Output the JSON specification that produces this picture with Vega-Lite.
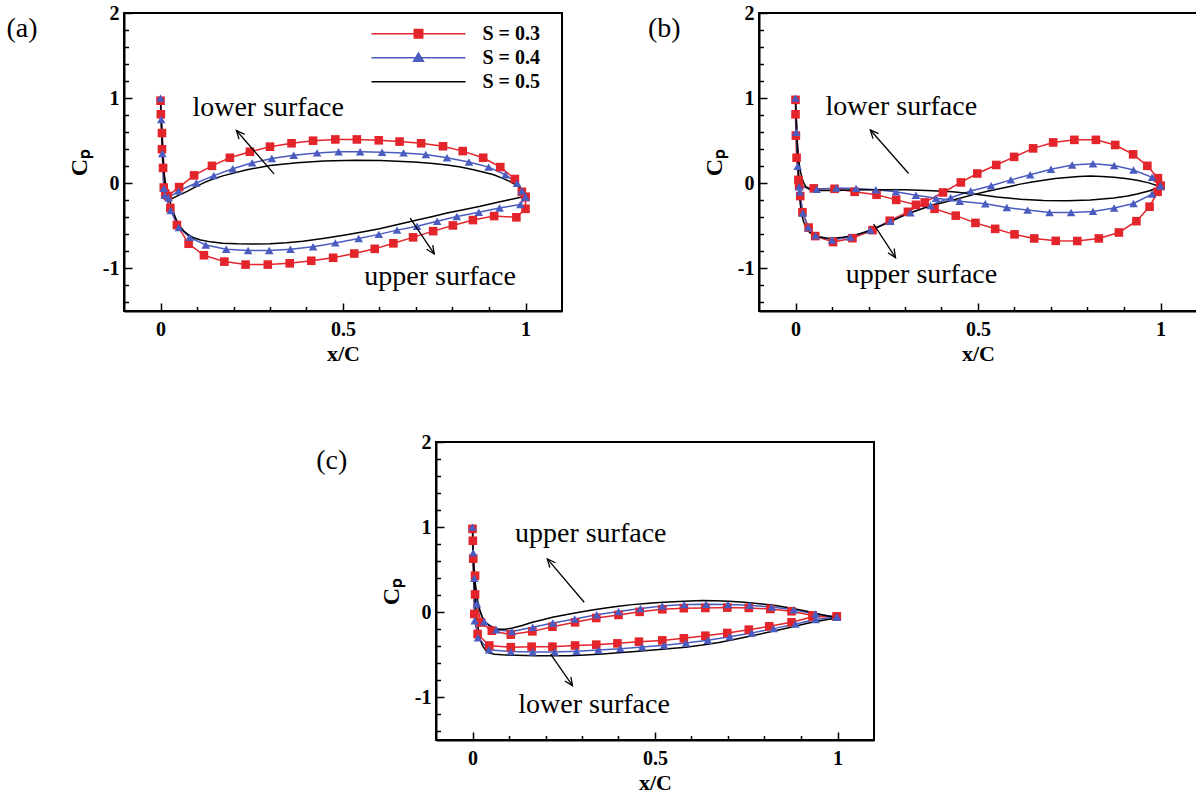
{
  "$schema": "https://vega.github.io/schema/vega-lite/v6.json",
  "padding": {"left": 5, "top": 2, "right": 5, "bottom": 5},
  "background": "white",
  "config": {
    "font": "Liberation Serif",
    "view": {"stroke": "black", "strokeWidth": 2},
    "axis": {
      "domainColor": "black", "domainWidth": 2, "grid": false,
      "tickColor": "black", "tickWidth": 1.5,
      "labelFont": "Liberation Serif", "labelFontWeight": "bold", "labelFontSize": 20, "labelColor": "black",
      "titleFont": "Liberation Serif", "titleFontWeight": "bold", "titleColor": "black",
      "labelOverlap": false, "labelFlush": false
    }
  },
  "datasets": {
    "a": [
      {"s":"S = 0.3","x":1.0,"cp":-0.16},{"s":"S = 0.3","x":0.99,"cp":-0.10},{"s":"S = 0.3","x":0.971,"cp":0.05},{"s":"S = 0.3","x":0.931,"cp":0.19},{"s":"S = 0.3","x":0.884,"cp":0.30},{"s":"S = 0.3","x":0.828,"cp":0.378},{"s":"S = 0.3","x":0.774,"cp":0.435},{"s":"S = 0.3","x":0.714,"cp":0.47},{"s":"S = 0.3","x":0.655,"cp":0.49},{"s":"S = 0.3","x":0.598,"cp":0.505},{"s":"S = 0.3","x":0.538,"cp":0.515},{"s":"S = 0.3","x":0.479,"cp":0.515},{"s":"S = 0.3","x":0.418,"cp":0.50},{"s":"S = 0.3","x":0.359,"cp":0.47},{"s":"S = 0.3","x":0.30,"cp":0.43},{"s":"S = 0.3","x":0.245,"cp":0.37},{"s":"S = 0.3","x":0.19,"cp":0.30},{"s":"S = 0.3","x":0.141,"cp":0.205},{"s":"S = 0.3","x":0.092,"cp":0.093},{"s":"S = 0.3","x":0.051,"cp":-0.045},{"s":"S = 0.3","x":0.02,"cp":-0.15},{"s":"S = 0.3","x":0.009,"cp":-0.05},{"s":"S = 0.3","x":0.007,"cp":0.18},{"s":"S = 0.3","x":0.004,"cp":0.40},{"s":"S = 0.3","x":0.004,"cp":0.59},{"s":"S = 0.3","x":0.001,"cp":0.81},{"s":"S = 0.3","x":0.0,"cp":0.97},
      {"s":"S = 0.3","x":0.013,"cp":-0.12},{"s":"S = 0.3","x":0.027,"cp":-0.29},{"s":"S = 0.3","x":0.045,"cp":-0.49},{"s":"S = 0.3","x":0.077,"cp":-0.71},{"s":"S = 0.3","x":0.119,"cp":-0.845},{"s":"S = 0.3","x":0.175,"cp":-0.92},{"s":"S = 0.3","x":0.233,"cp":-0.955},{"s":"S = 0.3","x":0.294,"cp":-0.955},{"s":"S = 0.3","x":0.354,"cp":-0.94},{"s":"S = 0.3","x":0.413,"cp":-0.91},{"s":"S = 0.3","x":0.473,"cp":-0.875},{"s":"S = 0.3","x":0.531,"cp":-0.825},{"s":"S = 0.3","x":0.587,"cp":-0.77},{"s":"S = 0.3","x":0.638,"cp":-0.705},{"s":"S = 0.3","x":0.692,"cp":-0.635},{"s":"S = 0.3","x":0.747,"cp":-0.562},{"s":"S = 0.3","x":0.801,"cp":-0.495},{"s":"S = 0.3","x":0.856,"cp":-0.432},{"s":"S = 0.3","x":0.914,"cp":-0.385},{"s":"S = 0.3","x":0.975,"cp":-0.40},{"s":"S = 0.3","x":1.0,"cp":-0.30},{"s":"S = 0.3","x":1.0,"cp":-0.161},

      {"s":"S = 0.4","x":1.0,"cp":-0.16},{"s":"S = 0.4","x":0.99,"cp":-0.09},{"s":"S = 0.4","x":0.977,"cp":0.0},{"s":"S = 0.4","x":0.945,"cp":0.10},{"s":"S = 0.4","x":0.899,"cp":0.19},{"s":"S = 0.4","x":0.845,"cp":0.25},{"s":"S = 0.4","x":0.785,"cp":0.30},{"s":"S = 0.4","x":0.727,"cp":0.337},{"s":"S = 0.4","x":0.666,"cp":0.357},{"s":"S = 0.4","x":0.607,"cp":0.365},{"s":"S = 0.4","x":0.547,"cp":0.37},{"s":"S = 0.4","x":0.488,"cp":0.37},{"s":"S = 0.4","x":0.429,"cp":0.357},{"s":"S = 0.4","x":0.365,"cp":0.33},{"s":"S = 0.4","x":0.305,"cp":0.29},{"s":"S = 0.4","x":0.251,"cp":0.24},{"s":"S = 0.4","x":0.198,"cp":0.17},{"s":"S = 0.4","x":0.146,"cp":0.09},{"s":"S = 0.4","x":0.098,"cp":0.004},{"s":"S = 0.4","x":0.05,"cp":-0.09},{"s":"S = 0.4","x":0.022,"cp":-0.17},{"s":"S = 0.4","x":0.009,"cp":-0.06},{"s":"S = 0.4","x":0.005,"cp":0.35},{"s":"S = 0.4","x":0.002,"cp":0.75},{"s":"S = 0.4","x":0.0,"cp":1.0},
      {"s":"S = 0.4","x":0.012,"cp":-0.14},{"s":"S = 0.4","x":0.028,"cp":-0.32},{"s":"S = 0.4","x":0.05,"cp":-0.52},{"s":"S = 0.4","x":0.08,"cp":-0.635},{"s":"S = 0.4","x":0.124,"cp":-0.725},{"s":"S = 0.4","x":0.18,"cp":-0.775},{"s":"S = 0.4","x":0.24,"cp":-0.79},{"s":"S = 0.4","x":0.298,"cp":-0.79},{"s":"S = 0.4","x":0.356,"cp":-0.775},{"s":"S = 0.4","x":0.418,"cp":-0.745},{"s":"S = 0.4","x":0.479,"cp":-0.70},{"s":"S = 0.4","x":0.543,"cp":-0.648},{"s":"S = 0.4","x":0.598,"cp":-0.60},{"s":"S = 0.4","x":0.648,"cp":-0.55},{"s":"S = 0.4","x":0.703,"cp":-0.505},{"s":"S = 0.4","x":0.758,"cp":-0.447},{"s":"S = 0.4","x":0.812,"cp":-0.39},{"s":"S = 0.4","x":0.872,"cp":-0.34},{"s":"S = 0.4","x":0.929,"cp":-0.29},{"s":"S = 0.4","x":0.986,"cp":-0.25},{"s":"S = 0.4","x":1.0,"cp":-0.161},

      {"s":"S = 0.5","x":1.0,"cp":-0.15},{"s":"S = 0.5","x":0.986,"cp":-0.055},{"s":"S = 0.5","x":0.972,"cp":-0.015},{"s":"S = 0.5","x":0.958,"cp":0.02},{"s":"S = 0.5","x":0.936,"cp":0.06},{"s":"S = 0.5","x":0.913,"cp":0.10},{"s":"S = 0.5","x":0.886,"cp":0.13},{"s":"S = 0.5","x":0.858,"cp":0.16},{"s":"S = 0.5","x":0.822,"cp":0.19},{"s":"S = 0.5","x":0.785,"cp":0.215},{"s":"S = 0.5","x":0.74,"cp":0.235},{"s":"S = 0.5","x":0.694,"cp":0.25},{"s":"S = 0.5","x":0.648,"cp":0.26},{"s":"S = 0.5","x":0.602,"cp":0.267},{"s":"S = 0.5","x":0.534,"cp":0.27},{"s":"S = 0.5","x":0.448,"cp":0.262},{"s":"S = 0.5","x":0.374,"cp":0.24},{"s":"S = 0.5","x":0.30,"cp":0.208},{"s":"S = 0.5","x":0.237,"cp":0.16},{"s":"S = 0.5","x":0.173,"cp":0.09},{"s":"S = 0.5","x":0.14,"cp":0.045},{"s":"S = 0.5","x":0.118,"cp":0.005},{"s":"S = 0.5","x":0.095,"cp":-0.045},{"s":"S = 0.5","x":0.073,"cp":-0.095},{"s":"S = 0.5","x":0.058,"cp":-0.125},{"s":"S = 0.5","x":0.045,"cp":-0.15},{"s":"S = 0.5","x":0.035,"cp":-0.172},{"s":"S = 0.5","x":0.027,"cp":-0.19},{"s":"S = 0.5","x":0.021,"cp":-0.15},{"s":"S = 0.5","x":0.017,"cp":-0.08},{"s":"S = 0.5","x":0.012,"cp":0.05},{"s":"S = 0.5","x":0.008,"cp":0.2},{"s":"S = 0.5","x":0.005,"cp":0.45},{"s":"S = 0.5","x":0.002,"cp":0.75},{"s":"S = 0.5","x":0.0,"cp":1.0},
      {"s":"S = 0.5","x":0.003,"cp":0.6},{"s":"S = 0.5","x":0.007,"cp":0.25},{"s":"S = 0.5","x":0.012,"cp":0.0},{"s":"S = 0.5","x":0.018,"cp":-0.1},{"s":"S = 0.5","x":0.025,"cp":-0.2},{"s":"S = 0.5","x":0.032,"cp":-0.29},{"s":"S = 0.5","x":0.038,"cp":-0.37},{"s":"S = 0.5","x":0.045,"cp":-0.445},{"s":"S = 0.5","x":0.054,"cp":-0.51},{"s":"S = 0.5","x":0.064,"cp":-0.56},{"s":"S = 0.5","x":0.077,"cp":-0.605},{"s":"S = 0.5","x":0.091,"cp":-0.64},{"s":"S = 0.5","x":0.11,"cp":-0.665},{"s":"S = 0.5","x":0.137,"cp":-0.688},{"s":"S = 0.5","x":0.17,"cp":-0.703},{"s":"S = 0.5","x":0.21,"cp":-0.71},{"s":"S = 0.5","x":0.255,"cp":-0.712},{"s":"S = 0.5","x":0.30,"cp":-0.71},{"s":"S = 0.5","x":0.345,"cp":-0.698},{"s":"S = 0.5","x":0.39,"cp":-0.68},{"s":"S = 0.5","x":0.45,"cp":-0.645},{"s":"S = 0.5","x":0.51,"cp":-0.605},{"s":"S = 0.5","x":0.56,"cp":-0.567},{"s":"S = 0.5","x":0.60,"cp":-0.533},{"s":"S = 0.5","x":0.65,"cp":-0.485},{"s":"S = 0.5","x":0.694,"cp":-0.44},{"s":"S = 0.5","x":0.74,"cp":-0.395},{"s":"S = 0.5","x":0.785,"cp":-0.35},{"s":"S = 0.5","x":0.83,"cp":-0.31},{"s":"S = 0.5","x":0.876,"cp":-0.27},{"s":"S = 0.5","x":0.915,"cp":-0.232},{"s":"S = 0.5","x":0.949,"cp":-0.20},{"s":"S = 0.5","x":0.975,"cp":-0.175},{"s":"S = 0.5","x":1.0,"cp":-0.151}
    ],
    "b": [
      {"s":"S = 0.3","x":1.0,"cp":-0.03},{"s":"S = 0.3","x":0.993,"cp":0.06},{"s":"S = 0.3","x":0.964,"cp":0.205},{"s":"S = 0.3","x":0.925,"cp":0.34},{"s":"S = 0.3","x":0.876,"cp":0.45},{"s":"S = 0.3","x":0.823,"cp":0.51},{"s":"S = 0.3","x":0.764,"cp":0.51},{"s":"S = 0.3","x":0.706,"cp":0.48},{"s":"S = 0.3","x":0.651,"cp":0.41},{"s":"S = 0.3","x":0.599,"cp":0.31},{"s":"S = 0.3","x":0.55,"cp":0.215},{"s":"S = 0.3","x":0.498,"cp":0.115},{"s":"S = 0.3","x":0.453,"cp":0.01},{"s":"S = 0.3","x":0.404,"cp":-0.108},{"s":"S = 0.3","x":0.354,"cp":-0.225},{"s":"S = 0.3","x":0.308,"cp":-0.335},{"s":"S = 0.3","x":0.258,"cp":-0.44},{"s":"S = 0.3","x":0.211,"cp":-0.55},{"s":"S = 0.3","x":0.156,"cp":-0.645},{"s":"S = 0.3","x":0.103,"cp":-0.69},{"s":"S = 0.3","x":0.054,"cp":-0.62},{"s":"S = 0.3","x":0.036,"cp":-0.52},{"s":"S = 0.3","x":0.019,"cp":-0.34},{"s":"S = 0.3","x":0.013,"cp":-0.15},{"s":"S = 0.3","x":0.008,"cp":0.04},{"s":"S = 0.3","x":0.003,"cp":0.30},{"s":"S = 0.3","x":0.001,"cp":0.56},{"s":"S = 0.3","x":0.0,"cp":0.81},{"s":"S = 0.3","x":0.0,"cp":0.98},
      {"s":"S = 0.3","x":0.01,"cp":-0.03},{"s":"S = 0.3","x":0.05,"cp":-0.06},{"s":"S = 0.3","x":0.107,"cp":-0.065},{"s":"S = 0.3","x":0.162,"cp":-0.10},{"s":"S = 0.3","x":0.222,"cp":-0.135},{"s":"S = 0.3","x":0.276,"cp":-0.195},{"s":"S = 0.3","x":0.33,"cp":-0.253},{"s":"S = 0.3","x":0.381,"cp":-0.30},{"s":"S = 0.3","x":0.439,"cp":-0.38},{"s":"S = 0.3","x":0.493,"cp":-0.465},{"s":"S = 0.3","x":0.547,"cp":-0.535},{"s":"S = 0.3","x":0.60,"cp":-0.60},{"s":"S = 0.3","x":0.654,"cp":-0.648},{"s":"S = 0.3","x":0.713,"cp":-0.676},{"s":"S = 0.3","x":0.772,"cp":-0.678},{"s":"S = 0.3","x":0.831,"cp":-0.648},{"s":"S = 0.3","x":0.886,"cp":-0.578},{"s":"S = 0.3","x":0.934,"cp":-0.445},{"s":"S = 0.3","x":0.97,"cp":-0.275},{"s":"S = 0.3","x":0.992,"cp":-0.10},{"s":"S = 0.3","x":1.0,"cp":-0.031},

      {"s":"S = 0.4","x":1.0,"cp":-0.03},{"s":"S = 0.4","x":0.977,"cp":0.07},{"s":"S = 0.4","x":0.926,"cp":0.155},{"s":"S = 0.4","x":0.873,"cp":0.21},{"s":"S = 0.4","x":0.815,"cp":0.23},{"s":"S = 0.4","x":0.758,"cp":0.215},{"s":"S = 0.4","x":0.70,"cp":0.165},{"s":"S = 0.4","x":0.643,"cp":0.10},{"s":"S = 0.4","x":0.59,"cp":0.04},{"s":"S = 0.4","x":0.536,"cp":-0.03},{"s":"S = 0.4","x":0.48,"cp":-0.09},{"s":"S = 0.4","x":0.425,"cp":-0.17},{"s":"S = 0.4","x":0.37,"cp":-0.26},{"s":"S = 0.4","x":0.315,"cp":-0.345},{"s":"S = 0.4","x":0.26,"cp":-0.445},{"s":"S = 0.4","x":0.205,"cp":-0.55},{"s":"S = 0.4","x":0.15,"cp":-0.63},{"s":"S = 0.4","x":0.10,"cp":-0.665},{"s":"S = 0.4","x":0.055,"cp":-0.615},{"s":"S = 0.4","x":0.035,"cp":-0.52},{"s":"S = 0.4","x":0.02,"cp":-0.35},{"s":"S = 0.4","x":0.012,"cp":-0.1},{"s":"S = 0.4","x":0.006,"cp":0.2},{"s":"S = 0.4","x":0.002,"cp":0.6},{"s":"S = 0.4","x":0.0,"cp":1.0},
      {"s":"S = 0.4","x":0.01,"cp":-0.04},{"s":"S = 0.4","x":0.058,"cp":-0.07},{"s":"S = 0.4","x":0.112,"cp":-0.055},{"s":"S = 0.4","x":0.166,"cp":-0.06},{"s":"S = 0.4","x":0.22,"cp":-0.075},{"s":"S = 0.4","x":0.275,"cp":-0.10},{"s":"S = 0.4","x":0.33,"cp":-0.14},{"s":"S = 0.4","x":0.385,"cp":-0.175},{"s":"S = 0.4","x":0.45,"cp":-0.21},{"s":"S = 0.4","x":0.52,"cp":-0.24},{"s":"S = 0.4","x":0.579,"cp":-0.285},{"s":"S = 0.4","x":0.636,"cp":-0.315},{"s":"S = 0.4","x":0.696,"cp":-0.343},{"s":"S = 0.4","x":0.755,"cp":-0.343},{"s":"S = 0.4","x":0.815,"cp":-0.33},{"s":"S = 0.4","x":0.873,"cp":-0.29},{"s":"S = 0.4","x":0.926,"cp":-0.237},{"s":"S = 0.4","x":0.977,"cp":-0.127},{"s":"S = 0.4","x":1.0,"cp":-0.031},

      {"s":"S = 0.5","x":1.0,"cp":-0.04},{"s":"S = 0.5","x":0.968,"cp":0.005},{"s":"S = 0.5","x":0.936,"cp":0.035},{"s":"S = 0.5","x":0.904,"cp":0.055},{"s":"S = 0.5","x":0.872,"cp":0.07},{"s":"S = 0.5","x":0.84,"cp":0.08},{"s":"S = 0.5","x":0.808,"cp":0.085},{"s":"S = 0.5","x":0.776,"cp":0.08},{"s":"S = 0.5","x":0.744,"cp":0.068},{"s":"S = 0.5","x":0.712,"cp":0.055},{"s":"S = 0.5","x":0.68,"cp":0.037},{"s":"S = 0.5","x":0.648,"cp":0.015},{"s":"S = 0.5","x":0.616,"cp":-0.01},{"s":"S = 0.5","x":0.584,"cp":-0.04},{"s":"S = 0.5","x":0.552,"cp":-0.07},{"s":"S = 0.5","x":0.52,"cp":-0.1},{"s":"S = 0.5","x":0.49,"cp":-0.13},{"s":"S = 0.5","x":0.442,"cp":-0.185},{"s":"S = 0.5","x":0.405,"cp":-0.225},{"s":"S = 0.5","x":0.37,"cp":-0.265},{"s":"S = 0.5","x":0.333,"cp":-0.32},{"s":"S = 0.5","x":0.296,"cp":-0.38},{"s":"S = 0.5","x":0.26,"cp":-0.45},{"s":"S = 0.5","x":0.223,"cp":-0.52},{"s":"S = 0.5","x":0.19,"cp":-0.575},{"s":"S = 0.5","x":0.16,"cp":-0.612},{"s":"S = 0.5","x":0.13,"cp":-0.635},{"s":"S = 0.5","x":0.105,"cp":-0.645},{"s":"S = 0.5","x":0.085,"cp":-0.643},{"s":"S = 0.5","x":0.065,"cp":-0.63},{"s":"S = 0.5","x":0.05,"cp":-0.61},{"s":"S = 0.5","x":0.038,"cp":-0.575},{"s":"S = 0.5","x":0.029,"cp":-0.52},{"s":"S = 0.5","x":0.022,"cp":-0.45},{"s":"S = 0.5","x":0.016,"cp":-0.35},{"s":"S = 0.5","x":0.012,"cp":-0.2},{"s":"S = 0.5","x":0.009,"cp":0.0},{"s":"S = 0.5","x":0.006,"cp":0.3},{"s":"S = 0.5","x":0.003,"cp":0.65},{"s":"S = 0.5","x":0.0,"cp":1.0},
      {"s":"S = 0.5","x":0.003,"cp":0.6},{"s":"S = 0.5","x":0.008,"cp":0.3},{"s":"S = 0.5","x":0.013,"cp":0.147},{"s":"S = 0.5","x":0.018,"cp":0.06},{"s":"S = 0.5","x":0.022,"cp":0.01},{"s":"S = 0.5","x":0.028,"cp":-0.04},{"s":"S = 0.5","x":0.036,"cp":-0.068},{"s":"S = 0.5","x":0.05,"cp":-0.08},{"s":"S = 0.5","x":0.07,"cp":-0.085},{"s":"S = 0.5","x":0.1,"cp":-0.085},{"s":"S = 0.5","x":0.15,"cp":-0.08},{"s":"S = 0.5","x":0.223,"cp":-0.075},{"s":"S = 0.5","x":0.30,"cp":-0.077},{"s":"S = 0.5","x":0.36,"cp":-0.085},{"s":"S = 0.5","x":0.43,"cp":-0.10},{"s":"S = 0.5","x":0.49,"cp":-0.125},{"s":"S = 0.5","x":0.552,"cp":-0.16},{"s":"S = 0.5","x":0.616,"cp":-0.188},{"s":"S = 0.5","x":0.68,"cp":-0.203},{"s":"S = 0.5","x":0.744,"cp":-0.206},{"s":"S = 0.5","x":0.808,"cp":-0.197},{"s":"S = 0.5","x":0.872,"cp":-0.174},{"s":"S = 0.5","x":0.91,"cp":-0.15},{"s":"S = 0.5","x":0.936,"cp":-0.125},{"s":"S = 0.5","x":0.968,"cp":-0.09},{"s":"S = 0.5","x":1.0,"cp":-0.041}
    ],
    "c": [
      {"s":"S = 0.3","x":0.998,"cp":-0.05},{"s":"S = 0.3","x":0.932,"cp":-0.037},{"s":"S = 0.3","x":0.874,"cp":0.012},{"s":"S = 0.3","x":0.816,"cp":0.039},{"s":"S = 0.3","x":0.757,"cp":0.051},{"s":"S = 0.3","x":0.698,"cp":0.055},{"s":"S = 0.3","x":0.638,"cp":0.051},{"s":"S = 0.3","x":0.579,"cp":0.048},{"s":"S = 0.3","x":0.52,"cp":0.035},{"s":"S = 0.3","x":0.458,"cp":0.005},{"s":"S = 0.3","x":0.40,"cp":-0.031},{"s":"S = 0.3","x":0.339,"cp":-0.067},{"s":"S = 0.3","x":0.281,"cp":-0.118},{"s":"S = 0.3","x":0.219,"cp":-0.169},{"s":"S = 0.3","x":0.164,"cp":-0.224},{"s":"S = 0.3","x":0.105,"cp":-0.262},{"s":"S = 0.3","x":0.053,"cp":-0.216},{"s":"S = 0.3","x":0.023,"cp":-0.12},{"s":"S = 0.3","x":0.007,"cp":0.21},{"s":"S = 0.3","x":0.007,"cp":0.43},{"s":"S = 0.3","x":0.002,"cp":0.63},{"s":"S = 0.3","x":0.001,"cp":0.84},{"s":"S = 0.3","x":0.0,"cp":0.98},
      {"s":"S = 0.3","x":0.005,"cp":-0.02},{"s":"S = 0.3","x":0.014,"cp":-0.255},{"s":"S = 0.3","x":0.046,"cp":-0.39},{"s":"S = 0.3","x":0.105,"cp":-0.41},{"s":"S = 0.3","x":0.162,"cp":-0.404},{"s":"S = 0.3","x":0.219,"cp":-0.404},{"s":"S = 0.3","x":0.281,"cp":-0.39},{"s":"S = 0.3","x":0.339,"cp":-0.38},{"s":"S = 0.3","x":0.397,"cp":-0.365},{"s":"S = 0.3","x":0.456,"cp":-0.345},{"s":"S = 0.3","x":0.52,"cp":-0.33},{"s":"S = 0.3","x":0.579,"cp":-0.306},{"s":"S = 0.3","x":0.638,"cp":-0.275},{"s":"S = 0.3","x":0.698,"cp":-0.243},{"s":"S = 0.3","x":0.757,"cp":-0.204},{"s":"S = 0.3","x":0.813,"cp":-0.165},{"s":"S = 0.3","x":0.874,"cp":-0.118},{"s":"S = 0.3","x":0.932,"cp":-0.053},{"s":"S = 0.3","x":0.998,"cp":-0.051},

      {"s":"S = 0.4","x":0.998,"cp":-0.055},{"s":"S = 0.4","x":0.94,"cp":-0.02},{"s":"S = 0.4","x":0.88,"cp":0.03},{"s":"S = 0.4","x":0.82,"cp":0.062},{"s":"S = 0.4","x":0.76,"cp":0.082},{"s":"S = 0.4","x":0.70,"cp":0.092},{"s":"S = 0.4","x":0.64,"cp":0.095},{"s":"S = 0.4","x":0.58,"cp":0.09},{"s":"S = 0.4","x":0.52,"cp":0.075},{"s":"S = 0.4","x":0.46,"cp":0.045},{"s":"S = 0.4","x":0.40,"cp":0.01},{"s":"S = 0.4","x":0.34,"cp":-0.03},{"s":"S = 0.4","x":0.28,"cp":-0.078},{"s":"S = 0.4","x":0.22,"cp":-0.125},{"s":"S = 0.4","x":0.165,"cp":-0.175},{"s":"S = 0.4","x":0.108,"cp":-0.225},{"s":"S = 0.4","x":0.065,"cp":-0.205},{"s":"S = 0.4","x":0.032,"cp":-0.11},{"s":"S = 0.4","x":0.012,"cp":0.1},{"s":"S = 0.4","x":0.005,"cp":0.4},{"s":"S = 0.4","x":0.002,"cp":0.7},{"s":"S = 0.4","x":0.0,"cp":1.0},
      {"s":"S = 0.4","x":0.006,"cp":-0.1},{"s":"S = 0.4","x":0.015,"cp":-0.3},{"s":"S = 0.4","x":0.045,"cp":-0.44},{"s":"S = 0.4","x":0.105,"cp":-0.462},{"s":"S = 0.4","x":0.165,"cp":-0.467},{"s":"S = 0.4","x":0.225,"cp":-0.467},{"s":"S = 0.4","x":0.285,"cp":-0.457},{"s":"S = 0.4","x":0.345,"cp":-0.443},{"s":"S = 0.4","x":0.405,"cp":-0.427},{"s":"S = 0.4","x":0.465,"cp":-0.408},{"s":"S = 0.4","x":0.525,"cp":-0.388},{"s":"S = 0.4","x":0.585,"cp":-0.362},{"s":"S = 0.4","x":0.645,"cp":-0.328},{"s":"S = 0.4","x":0.705,"cp":-0.288},{"s":"S = 0.4","x":0.765,"cp":-0.243},{"s":"S = 0.4","x":0.825,"cp":-0.192},{"s":"S = 0.4","x":0.885,"cp":-0.137},{"s":"S = 0.4","x":0.94,"cp":-0.085},{"s":"S = 0.4","x":0.998,"cp":-0.056},

      {"s":"S = 0.5","x":1.0,"cp":-0.065},{"s":"S = 0.5","x":0.97,"cp":-0.04},{"s":"S = 0.5","x":0.939,"cp":-0.012},{"s":"S = 0.5","x":0.912,"cp":0.015},{"s":"S = 0.5","x":0.885,"cp":0.04},{"s":"S = 0.5","x":0.858,"cp":0.06},{"s":"S = 0.5","x":0.83,"cp":0.079},{"s":"S = 0.5","x":0.8,"cp":0.095},{"s":"S = 0.5","x":0.766,"cp":0.11},{"s":"S = 0.5","x":0.735,"cp":0.122},{"s":"S = 0.5","x":0.702,"cp":0.13},{"s":"S = 0.5","x":0.665,"cp":0.135},{"s":"S = 0.5","x":0.629,"cp":0.137},{"s":"S = 0.5","x":0.597,"cp":0.134},{"s":"S = 0.5","x":0.565,"cp":0.128},{"s":"S = 0.5","x":0.511,"cp":0.115},{"s":"S = 0.5","x":0.475,"cp":0.104},{"s":"S = 0.5","x":0.438,"cp":0.09},{"s":"S = 0.5","x":0.40,"cp":0.072},{"s":"S = 0.5","x":0.365,"cp":0.051},{"s":"S = 0.5","x":0.328,"cp":0.027},{"s":"S = 0.5","x":0.292,"cp":0.0},{"s":"S = 0.5","x":0.255,"cp":-0.03},{"s":"S = 0.5","x":0.219,"cp":-0.059},{"s":"S = 0.5","x":0.19,"cp":-0.09},{"s":"S = 0.5","x":0.164,"cp":-0.118},{"s":"S = 0.5","x":0.136,"cp":-0.155},{"s":"S = 0.5","x":0.11,"cp":-0.185},{"s":"S = 0.5","x":0.09,"cp":-0.2},{"s":"S = 0.5","x":0.073,"cp":-0.198},{"s":"S = 0.5","x":0.058,"cp":-0.18},{"s":"S = 0.5","x":0.046,"cp":-0.157},{"s":"S = 0.5","x":0.036,"cp":-0.12},{"s":"S = 0.5","x":0.027,"cp":-0.06},{"s":"S = 0.5","x":0.02,"cp":0.03},{"s":"S = 0.5","x":0.014,"cp":0.14},{"s":"S = 0.5","x":0.009,"cp":0.3},{"s":"S = 0.5","x":0.005,"cp":0.45},{"s":"S = 0.5","x":0.002,"cp":0.7},{"s":"S = 0.5","x":0.0,"cp":1.0},
      {"s":"S = 0.5","x":0.002,"cp":0.6},{"s":"S = 0.5","x":0.005,"cp":0.3},{"s":"S = 0.5","x":0.009,"cp":0.06},{"s":"S = 0.5","x":0.013,"cp":-0.1},{"s":"S = 0.5","x":0.018,"cp":-0.255},{"s":"S = 0.5","x":0.022,"cp":-0.33},{"s":"S = 0.5","x":0.027,"cp":-0.39},{"s":"S = 0.5","x":0.036,"cp":-0.445},{"s":"S = 0.5","x":0.046,"cp":-0.478},{"s":"S = 0.5","x":0.06,"cp":-0.493},{"s":"S = 0.5","x":0.082,"cp":-0.50},{"s":"S = 0.5","x":0.12,"cp":-0.506},{"s":"S = 0.5","x":0.173,"cp":-0.51},{"s":"S = 0.5","x":0.22,"cp":-0.511},{"s":"S = 0.5","x":0.265,"cp":-0.51},{"s":"S = 0.5","x":0.31,"cp":-0.502},{"s":"S = 0.5","x":0.356,"cp":-0.49},{"s":"S = 0.5","x":0.4,"cp":-0.476},{"s":"S = 0.5","x":0.447,"cp":-0.46},{"s":"S = 0.5","x":0.52,"cp":-0.435},{"s":"S = 0.5","x":0.584,"cp":-0.41},{"s":"S = 0.5","x":0.63,"cp":-0.385},{"s":"S = 0.5","x":0.675,"cp":-0.355},{"s":"S = 0.5","x":0.72,"cp":-0.317},{"s":"S = 0.5","x":0.766,"cp":-0.275},{"s":"S = 0.5","x":0.81,"cp":-0.235},{"s":"S = 0.5","x":0.857,"cp":-0.19},{"s":"S = 0.5","x":0.895,"cp":-0.152},{"s":"S = 0.5","x":0.93,"cp":-0.118},{"s":"S = 0.5","x":0.965,"cp":-0.09},{"s":"S = 0.5","x":1.0,"cp":-0.066}
    ]
  },
  "vconcat": [
    {
      "hconcat": [
        {
          "width": 438, "height": 298,
          "resolve": {"axis": {"x": "independent", "y": "independent"}},
          "layer": [
            {
              "data": {"name": "a"},
              "mark": {"type": "line", "interpolate": "linear"},
              "encoding": {
                "x": {"field": "x", "type": "quantitative", "scale": {"domain": [-0.1, 1.1], "nice": false, "zero": false},
                  "axis": {"orient": "bottom", "title": "x/C", "titleFontSize": 22, "titlePadding": 4, "labelPadding": 16, "values": [0, 0.5, 1], "labelExpr": "'' + datum.value", "tickSize": -8}},
                "y": {"field": "cp", "type": "quantitative", "scale": {"domain": [-1.5, 2], "nice": false, "zero": false},
                  "axis": {"orient": "left", "title": "Cₚ", "titleFontSize": 24, "titlePadding": 11, "labelPadding": 13, "values": [-1, 0, 1, 2], "labelExpr": "'' + datum.value", "tickSize": -8}},
                "color": {"field": "s", "type": "nominal",
                  "scale": {"domain": ["S = 0.3", "S = 0.4", "S = 0.5"], "range": ["#e3242b", "#4a5cc0", "#000000"]},
                  "legend": {"orient": "none", "legendX": 246.5, "legendY": 9, "title": null, "padding": 0,
                    "symbolSize": 8836, "clipHeight": 23.5, "rowPadding": 0, "labelOffset": 16,
                    "labelFont": "Liberation Serif", "labelFontSize": 20, "labelFontWeight": "bold", "labelColor": "black", "labelBaseline": "middle",
                    "encode": {"symbols": {"update": {
                      "shape": {"signal": "datum.value === 'S = 0.3' ? 'M-1,0H1M-0.09,-0.09H0.09V0.09H-0.09Z' : datum.value === 'S = 0.4' ? 'M-1,0H1M0,-0.1L0.105,0.075H-0.105Z' : 'M-1,0H1'"},
                      "fill": {"signal": "datum.value === 'S = 0.3' ? '#e3242b' : datum.value === 'S = 0.4' ? '#4a5cc0' : 'transparent'"},
                      "stroke": {"signal": "datum.value === 'S = 0.3' ? '#e3242b' : datum.value === 'S = 0.4' ? '#4a5cc0' : '#000000'"},
                      "strokeWidth": {"signal": "datum.value === 'S = 0.5' ? 2 : 1.5"},
                      "size": {"value": 8836},
                      "opacity": {"value": 1}
                    }}}}},
                "strokeWidth": {"field": "s", "type": "ordinal", "scale": {"domain": ["S = 0.3", "S = 0.4", "S = 0.5"], "range": [1.5, 1.5, 2]}, "legend": null},
                "order": {"value": null}
              }
            },
            {
              "data": {"name": "a"},
              "transform": [{"filter": "datum.s !== 'S = 0.5'"}],
              "mark": {"type": "point", "filled": true, "opacity": 1, "size": 74},
              "encoding": {
                "x": {"field": "x", "type": "quantitative",
                  "axis": {"orient": "bottom", "title": null, "labels": false, "domain": false, "tickSize": -4.5, "values": [0.1, 0.2, 0.3, 0.4, 0.6, 0.7, 0.8, 0.9]}},
                "y": {"field": "cp", "type": "quantitative",
                  "axis": {"orient": "left", "title": null, "labels": false, "domain": false, "tickSize": -4.5, "values": [-1.4, -1.2, -0.8, -0.6, -0.4, -0.2, 0.2, 0.4, 0.6, 0.8, 1.2, 1.4, 1.6, 1.8]}},
                "color": {"field": "s", "type": "nominal"},
                "shape": {"field": "s", "type": "nominal", "scale": {"domain": ["S = 0.3", "S = 0.4"], "range": ["square", "triangle-up"]}, "legend": null}
              }
            },
            {"data": {"values": [{}]}, "mark": {"type": "text", "text": "(a)", "fontSize": 28, "align": "left", "baseline": "alphabetic", "color": "black"}, "encoding": {"x": {"datum": -0.422, "axis": null}, "y": {"datum": 1.718, "axis": null}}},
            {"data": {"values": [{}]}, "mark": {"type": "text", "text": "lower surface", "fontSize": 28, "align": "center", "baseline": "alphabetic", "color": "black"}, "encoding": {"x": {"datum": 0.295, "axis": null}, "y": {"datum": 0.79, "axis": null}}},
            {"data": {"values": [{}]}, "mark": {"type": "text", "text": "upper surface", "fontSize": 28, "align": "center", "baseline": "alphabetic", "color": "black"}, "encoding": {"x": {"datum": 0.766, "axis": null}, "y": {"datum": -1.19, "axis": null}}},
            {"data": {"values": [{}]}, "mark": {"type": "rule", "color": "black", "strokeWidth": 1.3}, "encoding": {"x": {"datum": 0.311, "axis": null}, "y": {"datum": 0.11, "axis": null}, "x2": {"datum": 0.208}, "y2": {"datum": 0.62}}},
            {"data": {"values": [{}]}, "mark": {"type": "point", "shape": "M-0.45,1L0,0L0.45,1", "filled": false, "stroke": "black", "strokeWidth": 1.3, "size": 270, "angle": -40.9, "opacity": 1}, "encoding": {"x": {"datum": 0.208, "axis": null}, "y": {"datum": 0.62, "axis": null}}},
            {"data": {"values": [{}]}, "mark": {"type": "rule", "color": "black", "strokeWidth": 1.3}, "encoding": {"x": {"datum": 0.684, "axis": null}, "y": {"datum": -0.41, "axis": null}, "x2": {"datum": 0.75}, "y2": {"datum": -0.83}}},
            {"data": {"values": [{}]}, "mark": {"type": "point", "shape": "M-0.45,1L0,0L0.45,1", "filled": false, "stroke": "black", "strokeWidth": 1.3, "size": 270, "angle": 146.1, "opacity": 1}, "encoding": {"x": {"datum": 0.75, "axis": null}, "y": {"datum": -0.83, "axis": null}}}
          ]
        },
        {
          "width": 438, "height": 298,
          "resolve": {"axis": {"x": "independent", "y": "independent"}},
          "layer": [
            {
              "data": {"name": "b"},
              "mark": {"type": "line", "interpolate": "linear"},
              "encoding": {
                "x": {"field": "x", "type": "quantitative", "scale": {"domain": [-0.1, 1.1], "nice": false, "zero": false},
                  "axis": {"orient": "bottom", "title": "x/C", "titleFontSize": 22, "titlePadding": 4, "labelPadding": 16, "values": [0, 0.5, 1], "labelExpr": "'' + datum.value", "tickSize": -8}},
                "y": {"field": "cp", "type": "quantitative", "scale": {"domain": [-1.5, 2], "nice": false, "zero": false},
                  "axis": {"orient": "left", "title": "Cₚ", "titleFontSize": 24, "titlePadding": 11, "labelPadding": 13, "values": [-1, 0, 1, 2], "labelExpr": "'' + datum.value", "tickSize": -8}},
                "color": {"field": "s", "type": "nominal",
                  "scale": {"domain": ["S = 0.3", "S = 0.4", "S = 0.5"], "range": ["#e3242b", "#4a5cc0", "#000000"]}, "legend": null},
                "strokeWidth": {"field": "s", "type": "ordinal", "scale": {"domain": ["S = 0.3", "S = 0.4", "S = 0.5"], "range": [1.5, 1.5, 2]}, "legend": null},
                "order": {"value": null}
              }
            },
            {
              "data": {"name": "b"},
              "transform": [{"filter": "datum.s !== 'S = 0.5'"}],
              "mark": {"type": "point", "filled": true, "opacity": 1, "size": 74},
              "encoding": {
                "x": {"field": "x", "type": "quantitative",
                  "axis": {"orient": "bottom", "title": null, "labels": false, "domain": false, "tickSize": -4.5, "values": [0.1, 0.2, 0.3, 0.4, 0.6, 0.7, 0.8, 0.9]}},
                "y": {"field": "cp", "type": "quantitative",
                  "axis": {"orient": "left", "title": null, "labels": false, "domain": false, "tickSize": -4.5, "values": [-1.4, -1.2, -0.8, -0.6, -0.4, -0.2, 0.2, 0.4, 0.6, 0.8, 1.2, 1.4, 1.6, 1.8]}},
                "color": {"field": "s", "type": "nominal"},
                "shape": {"field": "s", "type": "nominal", "scale": {"domain": ["S = 0.3", "S = 0.4"], "range": ["square", "triangle-up"]}, "legend": null}
              }
            },
            {"data": {"values": [{}]}, "mark": {"type": "text", "text": "(b)", "fontSize": 28, "align": "left", "baseline": "alphabetic", "color": "black"}, "encoding": {"x": {"datum": -0.404, "axis": null}, "y": {"datum": 1.715, "axis": null}}},
            {"data": {"values": [{}]}, "mark": {"type": "text", "text": "lower surface", "fontSize": 28, "align": "center", "baseline": "alphabetic", "color": "black"}, "encoding": {"x": {"datum": 0.29, "axis": null}, "y": {"datum": 0.806, "axis": null}}},
            {"data": {"values": [{}]}, "mark": {"type": "text", "text": "upper surface", "fontSize": 28, "align": "center", "baseline": "alphabetic", "color": "black"}, "encoding": {"x": {"datum": 0.345, "axis": null}, "y": {"datum": -1.167, "axis": null}}},
            {"data": {"values": [{}]}, "mark": {"type": "rule", "color": "black", "strokeWidth": 1.3}, "encoding": {"x": {"datum": 0.31, "axis": null}, "y": {"datum": 0.115, "axis": null}, "x2": {"datum": 0.205}, "y2": {"datum": 0.626}}},
            {"data": {"values": [{}]}, "mark": {"type": "point", "shape": "M-0.45,1L0,0L0.45,1", "filled": false, "stroke": "black", "strokeWidth": 1.3, "size": 270, "angle": -41.4, "opacity": 1}, "encoding": {"x": {"datum": 0.205, "axis": null}, "y": {"datum": 0.626, "axis": null}}},
            {"data": {"values": [{}]}, "mark": {"type": "rule", "color": "black", "strokeWidth": 1.3}, "encoding": {"x": {"datum": 0.214, "axis": null}, "y": {"datum": -0.48, "axis": null}, "x2": {"datum": 0.274}, "y2": {"datum": -0.873}}},
            {"data": {"values": [{}]}, "mark": {"type": "point", "shape": "M-0.45,1L0,0L0.45,1", "filled": false, "stroke": "black", "strokeWidth": 1.3, "size": 270, "angle": 146.8, "opacity": 1}, "encoding": {"x": {"datum": 0.274, "axis": null}, "y": {"datum": -0.873, "axis": null}}}
          ]
        }
      ],
      "spacing": 197,
      "bounds": "flush",
      "resolve": {"scale": {"color": "independent", "shape": "independent", "strokeWidth": "independent"}}
    },
    {
      "hconcat": [
        {
          "width": 200, "height": 298,
          "view": {"stroke": null},
          "data": {"values": []},
          "mark": {"type": "point", "opacity": 0}
        },
        {
          "width": 438, "height": 298,
          "resolve": {"axis": {"x": "independent", "y": "independent"}},
          "layer": [
            {
              "data": {"name": "c"},
              "mark": {"type": "line", "interpolate": "linear"},
              "encoding": {
                "x": {"field": "x", "type": "quantitative", "scale": {"domain": [-0.1, 1.1], "nice": false, "zero": false},
                  "axis": {"orient": "bottom", "title": "x/C", "titleFontSize": 22, "titlePadding": 4, "labelPadding": 16, "values": [0, 0.5, 1], "labelExpr": "'' + datum.value", "tickSize": -8}},
                "y": {"field": "cp", "type": "quantitative", "scale": {"domain": [-1.5, 2], "nice": false, "zero": false},
                  "axis": {"orient": "left", "title": "Cₚ", "titleFontSize": 24, "titlePadding": 11, "labelPadding": 13, "values": [-1, 0, 1, 2], "labelExpr": "'' + datum.value", "tickSize": -8}},
                "color": {"field": "s", "type": "nominal",
                  "scale": {"domain": ["S = 0.3", "S = 0.4", "S = 0.5"], "range": ["#e3242b", "#4a5cc0", "#000000"]}, "legend": null},
                "strokeWidth": {"field": "s", "type": "ordinal", "scale": {"domain": ["S = 0.3", "S = 0.4", "S = 0.5"], "range": [1.5, 1.5, 2]}, "legend": null},
                "order": {"value": null}
              }
            },
            {
              "data": {"name": "c"},
              "transform": [{"filter": "datum.s !== 'S = 0.5'"}],
              "mark": {"type": "point", "filled": true, "opacity": 1, "size": 74},
              "encoding": {
                "x": {"field": "x", "type": "quantitative",
                  "axis": {"orient": "bottom", "title": null, "labels": false, "domain": false, "tickSize": -4.5, "values": [0.1, 0.2, 0.3, 0.4, 0.6, 0.7, 0.8, 0.9]}},
                "y": {"field": "cp", "type": "quantitative",
                  "axis": {"orient": "left", "title": null, "labels": false, "domain": false, "tickSize": -4.5, "values": [-1.4, -1.2, -0.8, -0.6, -0.4, -0.2, 0.2, 0.4, 0.6, 0.8, 1.2, 1.4, 1.6, 1.8]}},
                "color": {"field": "s", "type": "nominal"},
                "shape": {"field": "s", "type": "nominal", "scale": {"domain": ["S = 0.3", "S = 0.4"], "range": ["square", "triangle-up"]}, "legend": null}
              }
            },
            {"data": {"values": [{}]}, "mark": {"type": "text", "text": "(c)", "fontSize": 28, "align": "left", "baseline": "alphabetic", "color": "black"}, "encoding": {"x": {"datum": -0.428, "axis": null}, "y": {"datum": 1.68, "axis": null}}},
            {"data": {"values": [{}]}, "mark": {"type": "text", "text": "upper surface", "fontSize": 28, "align": "center", "baseline": "alphabetic", "color": "black"}, "encoding": {"x": {"datum": 0.324, "axis": null}, "y": {"datum": 0.82, "axis": null}}},
            {"data": {"values": [{}]}, "mark": {"type": "text", "text": "lower surface", "fontSize": 28, "align": "center", "baseline": "alphabetic", "color": "black"}, "encoding": {"x": {"datum": 0.333, "axis": null}, "y": {"datum": -1.185, "axis": null}}},
            {"data": {"values": [{}]}, "mark": {"type": "rule", "color": "black", "strokeWidth": 1.3}, "encoding": {"x": {"datum": 0.306, "axis": null}, "y": {"datum": 0.118, "axis": null}, "x2": {"datum": 0.205}, "y2": {"datum": 0.627}}},
            {"data": {"values": [{}]}, "mark": {"type": "point", "shape": "M-0.45,1L0,0L0.45,1", "filled": false, "stroke": "black", "strokeWidth": 1.3, "size": 270, "angle": -40.4, "opacity": 1}, "encoding": {"x": {"datum": 0.205, "axis": null}, "y": {"datum": 0.627, "axis": null}}},
            {"data": {"values": [{}]}, "mark": {"type": "rule", "color": "black", "strokeWidth": 1.3}, "encoding": {"x": {"datum": 0.214, "axis": null}, "y": {"datum": -0.49, "axis": null}, "x2": {"datum": 0.274}, "y2": {"datum": -0.862}}},
            {"data": {"values": [{}]}, "mark": {"type": "point", "shape": "M-0.45,1L0,0L0.45,1", "filled": false, "stroke": "black", "strokeWidth": 1.3, "size": 270, "angle": 145.4, "opacity": 1}, "encoding": {"x": {"datum": 0.274, "axis": null}, "y": {"datum": -0.862, "axis": null}}}
          ]
        }
      ],
      "spacing": 112,
      "bounds": "flush",
      "resolve": {"scale": {"color": "independent", "shape": "independent", "strokeWidth": "independent"}}
    }
  ],
  "spacing": 66,
  "resolve": {"scale": {"color": "independent", "shape": "independent", "strokeWidth": "independent"}}
}
